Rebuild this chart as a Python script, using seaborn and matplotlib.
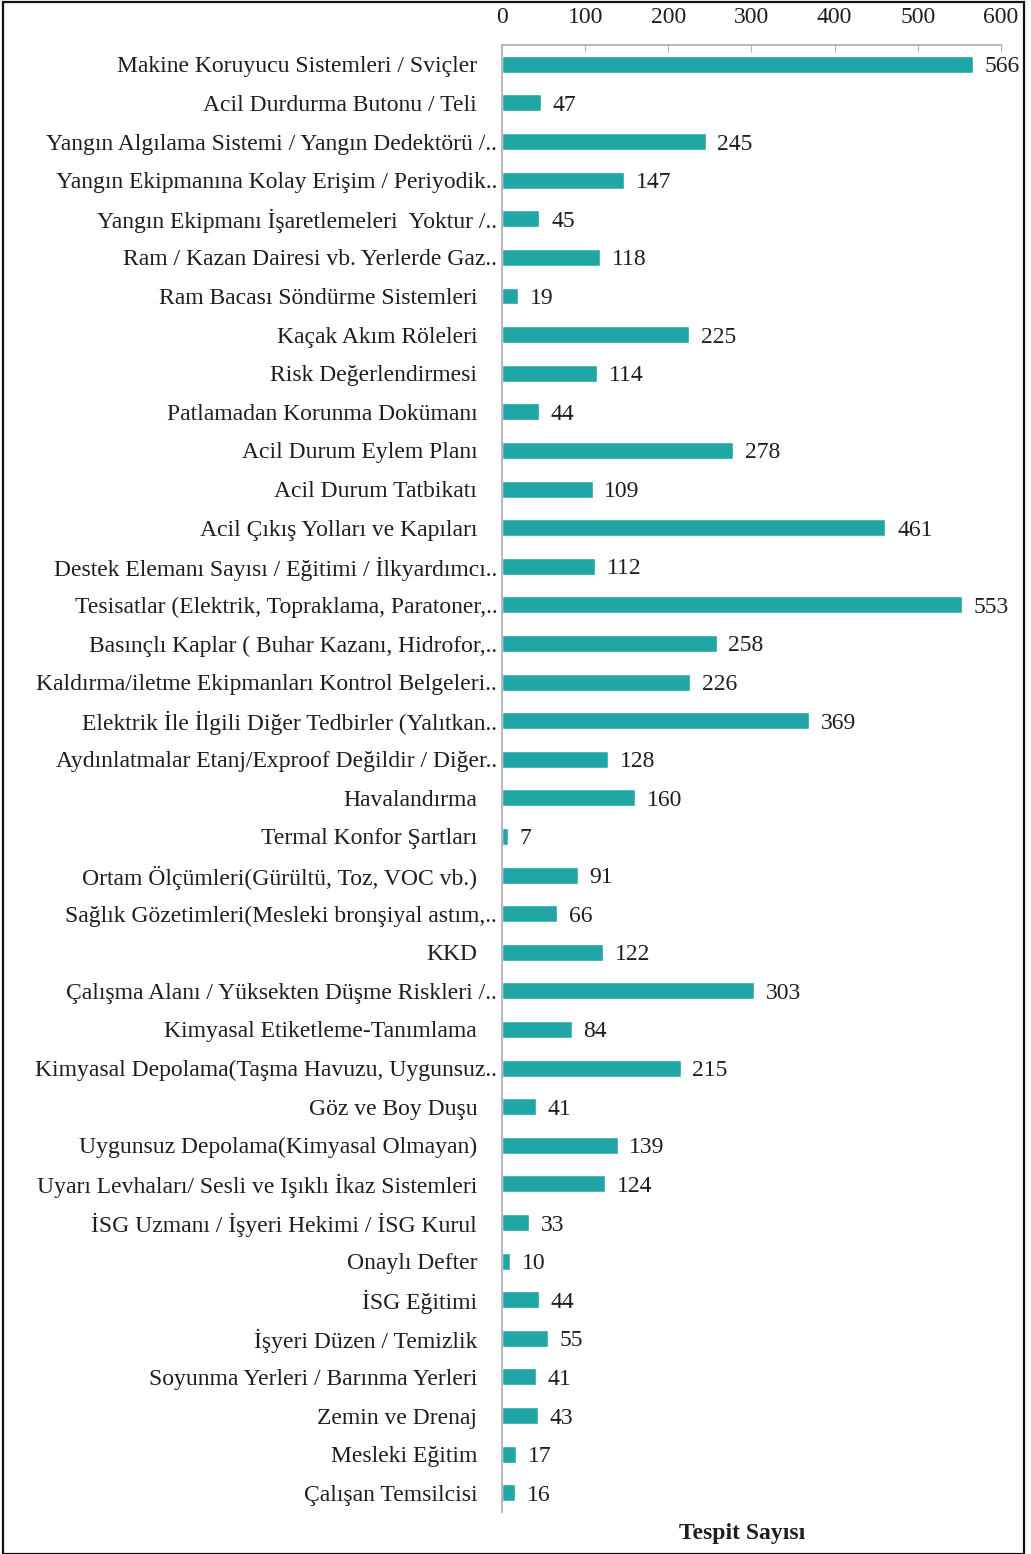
import matplotlib
matplotlib.use('Agg')
import matplotlib.pyplot as plt
import matplotlib.transforms as mtransforms
import numpy as np
import pandas as pd
import seaborn as sns
from matplotlib.ticker import FixedLocator

categories = [
    'Makine Koruyucu Sistemleri / Sviçler',
    'Acil Durdurma Butonu / Teli',
    'Yangın Algılama Sistemi / Yangın Dedektörü /..',
    'Yangın Ekipmanına Kolay Erişim / Periyodik..',
    'Yangın Ekipmanı İşaretlemeleri  Yoktur /..',
    'Ram / Kazan Dairesi vb. Yerlerde Gaz..',
    'Ram Bacası Söndürme Sistemleri',
    'Kaçak Akım Röleleri',
    'Risk Değerlendirmesi',
    'Patlamadan Korunma Dokümanı',
    'Acil Durum Eylem Planı',
    'Acil Durum Tatbikatı',
    'Acil Çıkış Yolları ve Kapıları',
    'Destek Elemanı Sayısı / Eğitimi / İlkyardımcı..',
    'Tesisatlar (Elektrik, Topraklama, Paratoner,..',
    'Basınçlı Kaplar ( Buhar Kazanı, Hidrofor,..',
    'Kaldırma/iletme Ekipmanları Kontrol Belgeleri..',
    'Elektrik İle İlgili Diğer Tedbirler (Yalıtkan..',
    'Aydınlatmalar Etanj/Exproof Değildir / Diğer..',
    'Havalandırma',
    'Termal Konfor Şartları',
    'Ortam Ölçümleri(Gürültü, Toz, VOC vb.)',
    'Sağlık Gözetimleri(Mesleki bronşiyal astım,..',
    'KKD',
    'Çalışma Alanı / Yüksekten Düşme Riskleri /..',
    'Kimyasal Etiketleme-Tanımlama',
    'Kimyasal Depolama(Taşma Havuzu, Uygunsuz..',
    'Göz ve Boy Duşu',
    'Uygunsuz Depolama(Kimyasal Olmayan)',
    'Uyarı Levhaları/ Sesli ve Işıklı İkaz Sistemleri',
    'İSG Uzmanı / İşyeri Hekimi / İSG Kurul',
    'Onaylı Defter',
    'İSG Eğitimi',
    'İşyeri Düzen / Temizlik',
    'Soyunma Yerleri / Barınma Yerleri',
    'Zemin ve Drenaj',
    'Mesleki Eğitim',
    'Çalışan Temsilcisi',
]
counts = [566, 47, 245, 147, 45, 118, 19, 225, 114, 44, 278, 109, 461, 112, 553,
          258, 226, 369, 128, 160, 7, 91, 66, 122, 303, 84, 215, 41, 139, 124,
          33, 10, 44, 55, 41, 43, 17, 16]
x_ticks = [0, 100, 200, 300, 400, 500, 600]

sns.set_style('white')
plt.rcParams['font.family'] = ['Liberation Serif', 'DejaVu Serif']

df = pd.DataFrame({'kategori': categories, 'tespit': counts})

fig = plt.figure(figsize=(10.31, 15.54), dpi=100)
ax = fig.add_axes([0.4869, 0.0270, 0.4840, 0.9440])

bar_color = '#21a6a6'
axis_color = '#b4aebf'
text_color = '#1e1e1e'
sns.barplot(data=df, x='tespit', y='kategori', color=bar_color, width=0.44,
            saturation=1, ax=ax)

for i, v in enumerate(counts):
    ax.text(v + 14, i, str(v), va='center_baseline', ha='left', fontsize=17,
            color=text_color)

ax.set_xlim(0, 600)
ax.set_ylim(len(categories) - 0.5, -0.5)
ax.xaxis.tick_top()
ax.set_xticks(x_ticks)
ax.tick_params(axis='x', labelsize=17, length=5, direction='in', color=axis_color,
               pad=12, labelcolor=text_color)
ax.tick_params(axis='y', which='major', length=0, labelsize=17, pad=3.5,
               labelcolor=text_color)
ax.yaxis.set_minor_locator(FixedLocator(np.arange(-0.5, len(categories), 1)))
ax.tick_params(axis='y', which='minor', length=4, direction='out', color=axis_color)

# labels that are not cut off sit a bit further from the axis
shift = mtransforms.ScaledTranslation(-20 / 100, 0, fig.dpi_scale_trans)
for lab in ax.get_yticklabels():
    if not lab.get_text().endswith('..'):
        lab.set_transform(lab.get_transform() + shift)

for side in ['right', 'bottom']:
    ax.spines[side].set_visible(False)
for side in ['top', 'left']:
    ax.spines[side].set_color(axis_color)
    ax.spines[side].set_linewidth(1.3)

ax.set_ylabel('')
ax.set_xlabel('')
fig.text(0.72, 0.0135, 'Tespit Sayısı', ha='center', va='center', fontsize=17,
         fontweight='bold', color=text_color)

fig.patches.append(plt.Rectangle((3 / 1031, 0.0), 1021 / 1031, 0.9985,
                                 transform=fig.transFigure, fill=False,
                                 edgecolor='#111111', linewidth=1.6))

fig.savefig('out.png', dpi=100)
